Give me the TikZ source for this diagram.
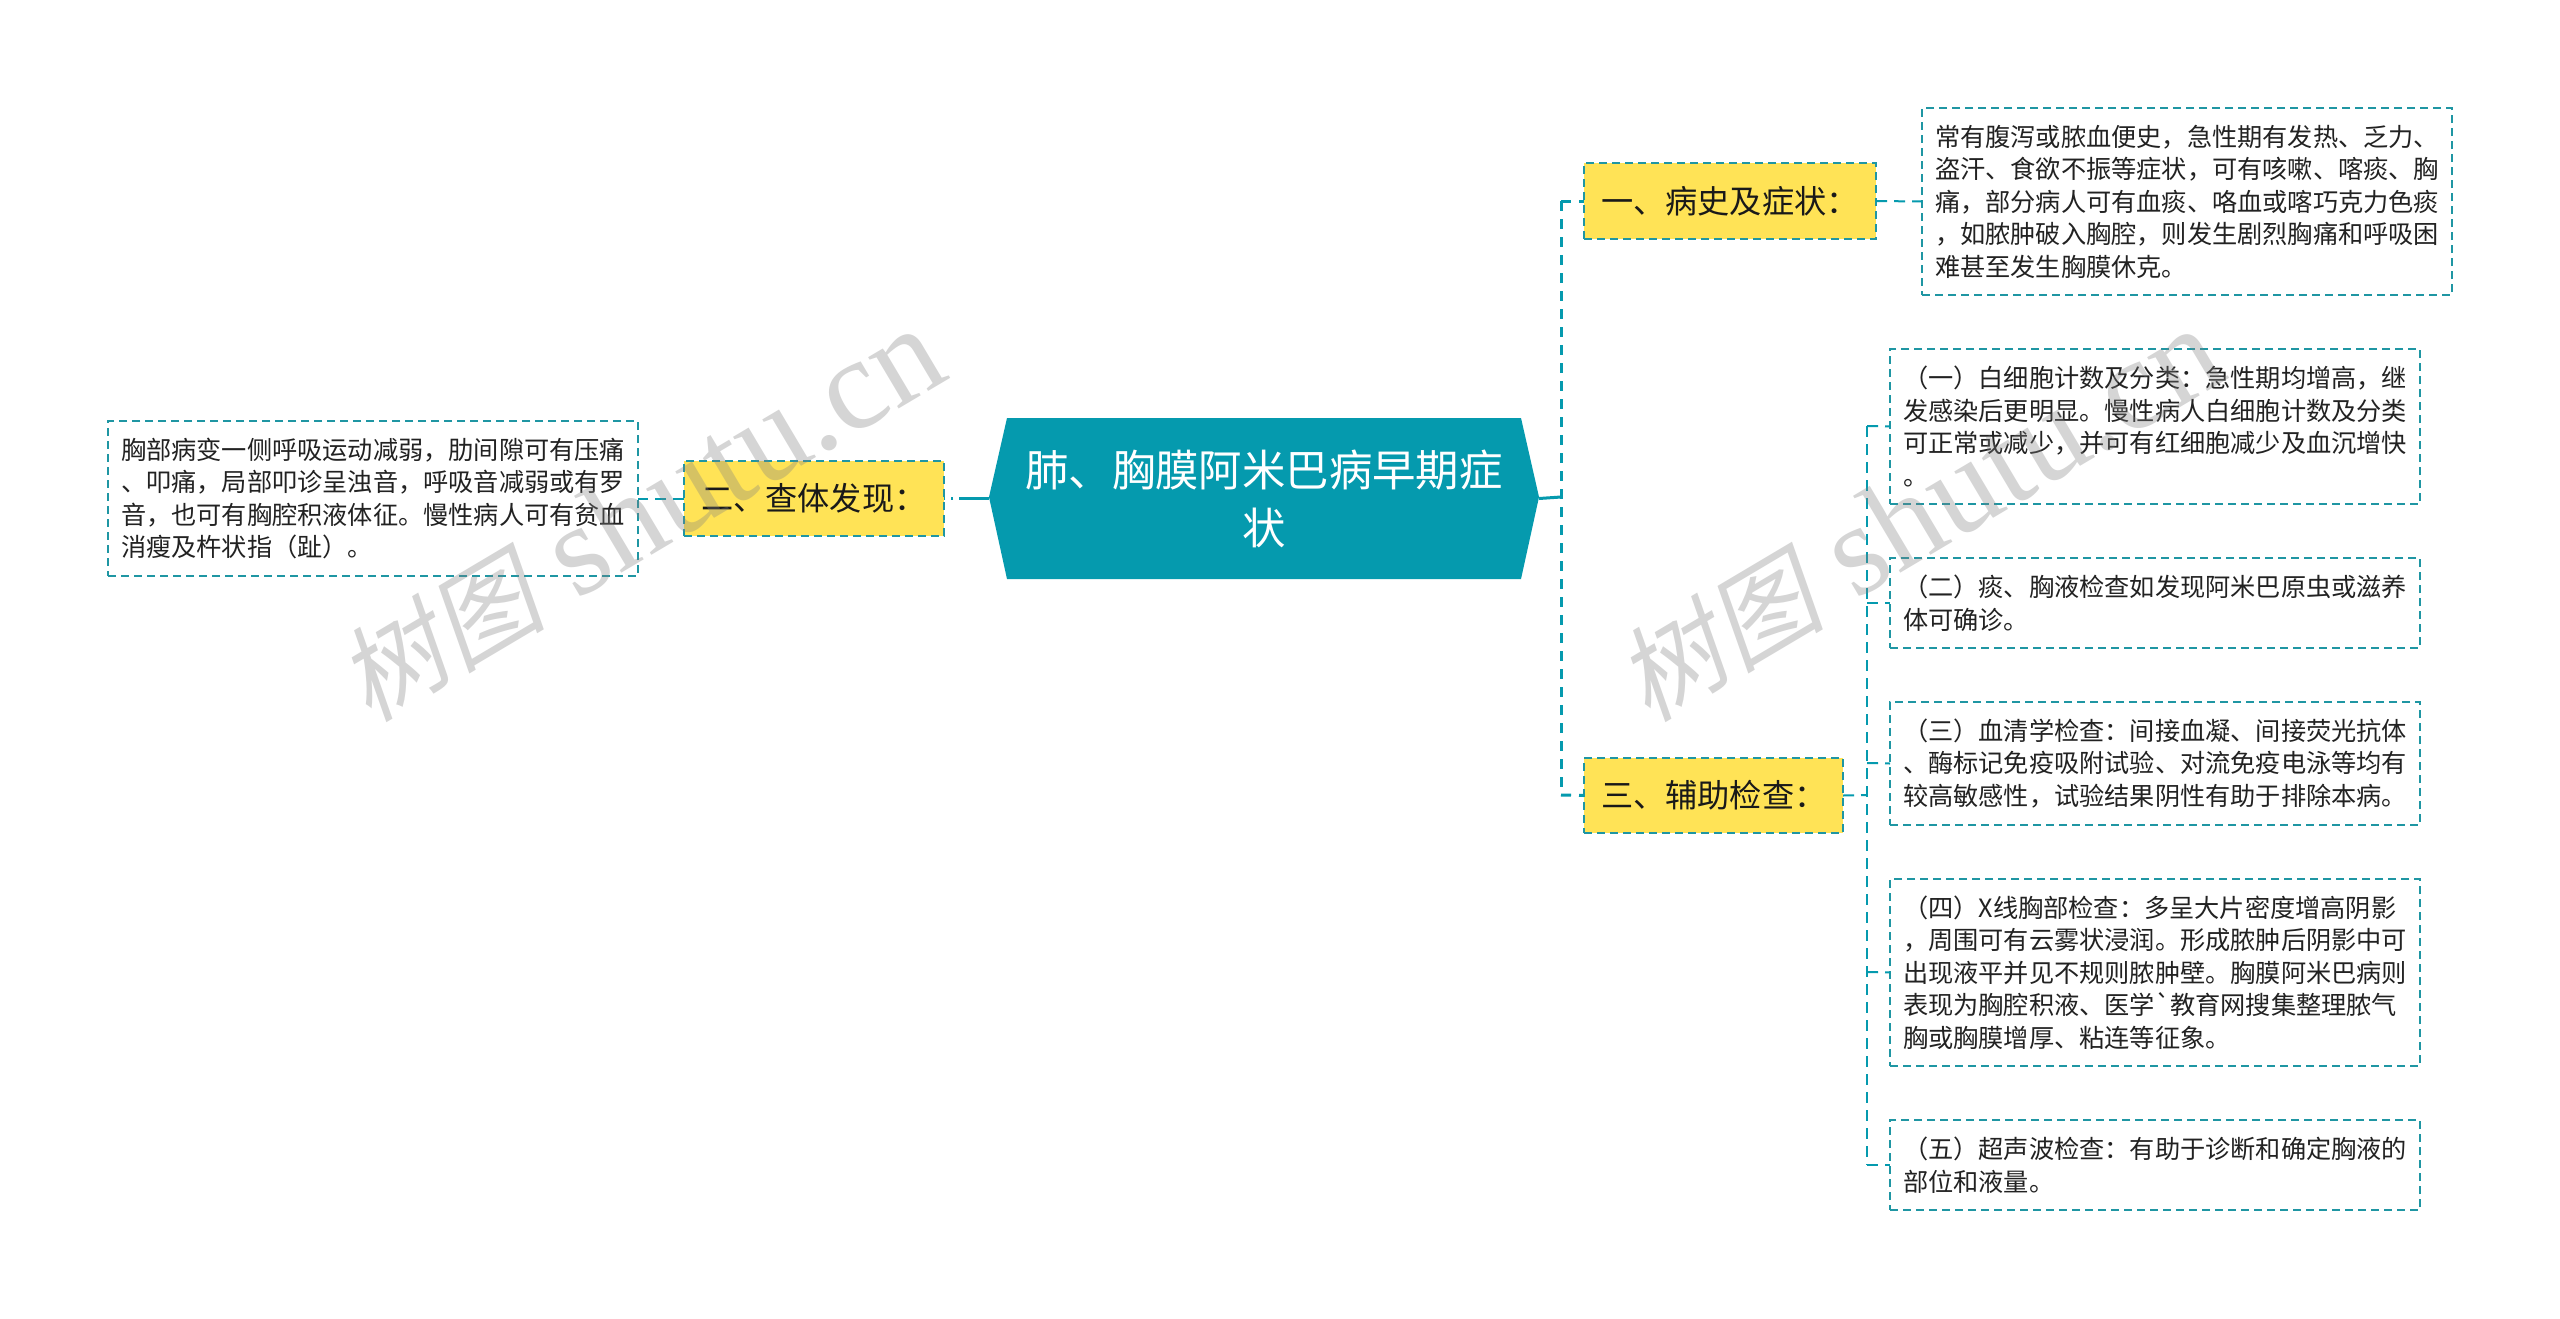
\documentclass[tikz,border=0pt]{standalone}
\usepackage{fontspec}
\newfontfamily\cjk{Noto Sans CJK SC}
\newfontfamily\wmcjk{Noto Sans CJK SC}[FakeSlant=0.2]
\newfontfamily\wmlat{Liberation Serif}[Style=Italic]
\definecolor{teal1}{HTML}{059AAE}
\definecolor{dashc}{HTML}{1F96A3}
\definecolor{yell}{HTML}{FFE356}
\definecolor{ink}{HTML}{222222}
\tikzset{
  detailbox/.style={draw=dashc,line width=1pt,dash pattern=on 4pt off 2.5pt,anchor=north west,inner xsep=6.5pt,inner ysep=0pt,outer sep=0pt,align=left,text=ink,font=\cjk\fontsize{12.6}{16.25}\selectfont},
  labelbox/.style={draw=dashc,fill=yell,line width=1pt,dash pattern=on 4pt off 2.5pt,anchor=north west,inner xsep=8.5pt,inner ysep=0pt,outer sep=0pt,align=left,text=black!90,font=\cjk\fontsize{16.1}{20}\selectfont},
  trunklink/.style={draw=teal1,line width=1.5pt,dash pattern=on 5pt off 4pt},
  thinlink/.style={draw=teal1,line width=1pt,dash pattern=on 5.5pt off 3.5pt},
  wmark/.style={text=gray,opacity=.33,rotate=30.7,anchor=center,inner sep=0pt},
}
\newcommand{\wmtext}{{\wmcjk\fontsize{52}{60}\selectfont 树图}{\wmlat\fontsize{65}{60}\selectfont{} shutu.cn}}
\begin{document}
\begin{tikzpicture}[x=.5pt,y=-.5pt]
\useasboundingbox (0,0) rectangle (2560,1318);
\fill[white] (0,0) rectangle (2560,1318);
% central node
\fill[teal1] (989,497)--(1007,418)--(1521,418)--(1539,497)--(1521,579)--(1007,579)--cycle;
\node[anchor=north west,minimum width=275pt,minimum height=80.5pt,inner sep=0pt,outer sep=0pt,align=center,text=white,font=\cjk\fontsize{21.7}{29}\selectfont] (root) at (989,418) {肺、胸膜阿米巴病早期症\\状};
% labels
\node[labelbox,text width=129pt,minimum height=38pt] (lab1) at (1584,163) {一、病史及症状：};
\node[labelbox,text width=113pt,minimum height=37.5pt] (lab2) at (684,461) {二、查体发现：};
\node[labelbox,text width=112.5pt,minimum height=37.5pt] (lab3) at (1584,758) {三、辅助检查：};
% details
\node[detailbox,text width=252pt,minimum height=93.5pt] (d1) at (1922,108) {常有腹泻或脓血便史，急性期有发热、乏力、\\盗汗、食欲不振等症状，可有咳嗽、喀痰、胸\\痛，部分病人可有血痰、咯血或喀巧克力色痰\\，如脓肿破入胸腔，则发生剧烈胸痛和呼吸困\\难甚至发生胸膜休克。};
\node[detailbox,text width=252pt,minimum height=77.5pt] (d2) at (108,421) {胸部病变一侧呼吸运动减弱，肋间隙可有压痛\\、叩痛，局部叩诊呈浊音，呼吸音减弱或有罗\\音，也可有胸腔积液体征。慢性病人可有贫血\\消瘦及杵状指（趾）。};
\node[detailbox,text width=252pt,minimum height=77.5pt] (d3) at (1890,349) {（一）白细胞计数及分类：急性期均增高，继\\发感染后更明显。慢性病人白细胞计数及分类\\可正常或减少，并可有红细胞减少及血沉增快\\。};
\node[detailbox,text width=252pt,minimum height=45pt] (d4) at (1890,558) {（二）痰、胸液检查如发现阿米巴原虫或滋养\\体可确诊。};
\node[detailbox,text width=252pt,minimum height=61.5pt] (d5) at (1890,702) {（三）血清学检查：间接血凝、间接荧光抗体\\、酶标记免疫吸附试验、对流免疫电泳等均有\\较高敏感性，试验结果阴性有助于排除本病。};
\node[detailbox,text width=252pt,minimum height=93.5pt] (d6) at (1890,879) {（四）X线胸部检查：多呈大片密度增高阴影\\，周围可有云雾状浸润。形成脓肿后阴影中可\\出现液平并见不规则脓肿壁。胸膜阿米巴病则\\表现为胸腔积液、医学`教育网搜集整理脓气\\胸或胸膜增厚、粘连等征象。};
\node[detailbox,text width=252pt,minimum height=45pt] (d7) at (1890,1120) {（五）超声波检查：有助于诊断和确定胸液的\\部位和液量。};
% junctions
\coordinate (ja) at (1561,497);
\coordinate (jb) at (1561,201);
\coordinate (jc) at (1561,795);
\coordinate (ka) at (1867,795);
\coordinate (k3) at (1867,426);
\coordinate (k4) at (1867,603);
\coordinate (k5) at (1867,763);
\coordinate (k6) at (1867,972);
\coordinate (k7) at (1867,1165);
% connectors
\draw[draw=teal1,line width=1.5pt] (root.east) -- (ja);
\draw[trunklink] (jb) -- (jc);
\draw[trunklink] (jb) -- (lab1.west);
\draw[trunklink] (jc) -- (lab3.west);
\draw[draw=teal1,line width=1.5pt,dash pattern=on 15pt off 3pt on 1pt off 3pt] (root.west) -- (lab2.east);
\draw[thinlink] (lab2.west) -- (d2.east);
\draw[thinlink] (lab1.east) -- (d1.west);
\draw[thinlink] (lab3.east) -- (ka);
\draw[thinlink] (k3) -- (k7);
\draw[thinlink] (k3) -- (d3.west);
\draw[thinlink] (k4) -- (d4.west);
\draw[thinlink] (k5) -- (d5.west);
\draw[thinlink] (k6) -- (d6.west);
\draw[thinlink] (k7) -- (d7.west);
% watermarks
\node[wmark] (w1) at (640,515) {\wmtext};
\node[wmark] (w2) at (1919,515) {\wmtext};
\end{tikzpicture}
\end{document}
